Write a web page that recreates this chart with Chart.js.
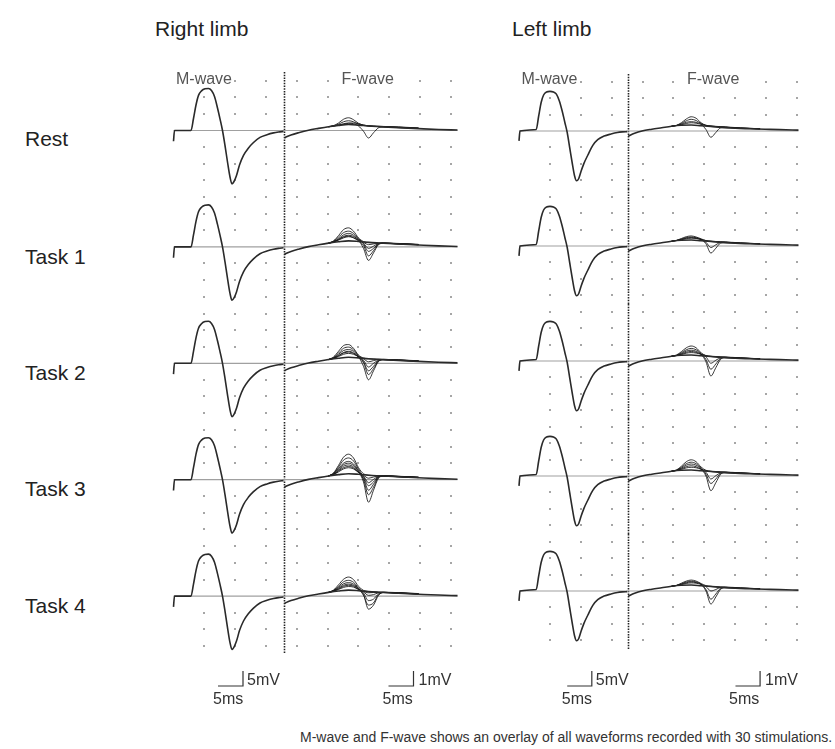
<!DOCTYPE html>
<html>
<head>
<meta charset="utf-8">
<script src="https://cdn.jsdelivr.net/npm/chart.js@4/dist/chart.umd.min.js"></script>
<style>
  html, body { margin: 0; padding: 0; background: #fff; }
  body { width: 835px; height: 749px; position: relative; overflow: hidden;
         font-family: "Liberation Sans", Arial, sans-serif; color: #222; }
  canvas { position: absolute; }
  .txt { position: absolute; white-space: nowrap; line-height: 1; transform: translateY(-50%); }
  .title { font-size: 21px; color: #222; }
  .row { font-size: 21px; color: #222; }
  .wave { font-size: 16px; color: #555; background: #fff; z-index: 2; }
  .bar { font-size: 16px; color: #333; }
  .caption { font-size: 14px; color: #333; }
</style>
</head>
<body>
<script>
const limbs = ['Right limb', 'Left limb']
const conditions = ['Rest', 'Task 1', 'Task 2', 'Task 3', 'Task 4']

// M-wave sweep (5 mV gain): time in ms after stimulus, amplitude in mV
const mTime  = [0, 0.2, 3.5, 4.0, 4.5, 5.0, 5.6, 6.3, 7.0, 7.6, 8.2, 8.8, 9.3, 9.8, 10.3, 10.8, 11.3, 11.7, 12.1, 12.6, 13.2, 14.0, 15.0, 16.0, 17.3, 18.7, 20.0, 21.0, 22.0]
const mRight = [-3.6, 0, 0, 4.0, 8.5, 11.7, 13.2, 13.9, 14.0, 13.3, 11.3, 7.5, 3.9, 0, -5.0, -10.5, -15.5, -17.8, -17.0, -15.0, -11.5, -8.3, -5.8, -4.0, -2.3, -1.4, -0.8, -0.5, -0.3]
const mLeft  = [-3.3, 0, 0.5, 5.0, 9.5, 12.0, 13.0, 13.2, 13.0, 12.3, 10.0, 6.5, 3.0, -0.5, -5.5, -10.5, -15.0, -16.6, -16.0, -13.5, -10.8, -8.0, -4.8, -2.9, -1.7, -1.0, -0.5, -0.3, -0.2]

// F-wave part of the sweep (1 mV gain)
const fTime  = [22.2, 22.6, 23.5, 25, 27, 29, 31, 33, 35, 37, 39, 41, 44, 47, 50, 53, 56.8]
const fRight = [-0.5, -0.42, -0.3, -0.15, 0.02, 0.14, 0.25, 0.34, 0.4, 0.36, 0.3, 0.26, 0.21, 0.16, 0.11, 0.07, 0.03]
const fLeft  = [-0.35, -0.28, -0.15, 0.0, 0.12, 0.22, 0.32, 0.38, 0.4, 0.35, 0.3, 0.24, 0.18, 0.15, 0.12, 0.09, 0.06]

// overlaid F responses, a handful of the 30 sweeps per condition (mV)
const fwTime = [31, 32, 33, 34, 35, 36, 37, 38, 39, 40, 41, 42, 45, 49]
const fwRight = [
  [ // Rest
    [0.25, 0.32, 0.50, 0.75, 0.85, 0.72, 0.48, 0.36, 0.31, 0.29, 0.27, 0.26, 0.22, 0.16],
    [0.25, 0.30, 0.42, 0.58, 0.65, 0.58, 0.42, 0.33, 0.30, 0.28, 0.26, 0.25, 0.20, 0.15],
    [0.25, 0.30, 0.36, 0.45, 0.50, 0.45, 0.30, -0.05, -0.50, -0.15, 0.18, 0.24, 0.19, 0.14],
    [0.25, 0.30, 0.35, 0.42, 0.48, 0.50, 0.45, 0.36, 0.31, 0.29, 0.28, 0.27, 0.24, 0.17]
  ],
  [ // Task 1
    [0.25, 0.40, 0.75, 1.15, 1.27, 1.05, 0.60, 0.36, 0.30, 0.28, 0.26, 0.25, 0.21, 0.15],
    [0.25, 0.38, 0.65, 0.95, 1.05, 0.90, 0.55, 0.20, -0.30, -0.10, 0.20, 0.25, 0.22, 0.16],
    [0.25, 0.35, 0.55, 0.80, 0.90, 0.78, 0.45, -0.10, -0.90, -0.40, 0.15, 0.24, 0.20, 0.15],
    [0.25, 0.33, 0.50, 0.70, 0.78, 0.70, 0.50, 0.25, -0.10, 0.05, 0.22, 0.26, 0.23, 0.17],
    [0.25, 0.32, 0.45, 0.60, 0.68, 0.62, 0.45, 0.30, 0.15, 0.20, 0.24, 0.25, 0.19, 0.14],
    [0.25, 0.33, 0.48, 0.65, 0.72, 0.60, 0.40, 0.10, -0.60, -0.25, 0.18, 0.25, 0.21, 0.15]
  ],
  [ // Task 2
    [0.25, 0.42, 0.80, 1.18, 1.25, 1.00, 0.55, 0.35, 0.30, 0.28, 0.26, 0.25, 0.22, 0.16],
    [0.25, 0.38, 0.68, 1.00, 1.08, 0.90, 0.50, 0.10, -0.50, -0.20, 0.18, 0.25, 0.21, 0.15],
    [0.25, 0.36, 0.60, 0.85, 0.92, 0.80, 0.45, -0.20, -1.10, -0.50, 0.12, 0.24, 0.20, 0.14],
    [0.25, 0.34, 0.52, 0.72, 0.80, 0.70, 0.45, 0.20, -0.25, 0.00, 0.20, 0.26, 0.23, 0.17],
    [0.25, 0.32, 0.45, 0.60, 0.66, 0.60, 0.45, 0.30, 0.10, 0.18, 0.24, 0.25, 0.19, 0.14],
    [0.25, 0.33, 0.50, 0.68, 0.75, 0.65, 0.40, 0.05, -0.75, -0.35, 0.15, 0.25, 0.21, 0.15]
  ],
  [ // Task 3
    [0.25, 0.45, 0.95, 1.50, 1.70, 1.45, 0.80, 0.40, 0.30, 0.28, 0.26, 0.25, 0.22, 0.16],
    [0.25, 0.42, 0.85, 1.30, 1.45, 1.25, 0.70, 0.20, -0.40, -0.15, 0.20, 0.25, 0.21, 0.15],
    [0.25, 0.40, 0.75, 1.10, 1.22, 1.05, 0.60, 0.00, -1.00, -0.50, 0.15, 0.24, 0.20, 0.14],
    [0.25, 0.38, 0.70, 1.00, 1.10, 0.95, 0.55, -0.15, -1.50, -0.70, 0.10, 0.24, 0.19, 0.14],
    [0.25, 0.36, 0.62, 0.90, 0.98, 0.85, 0.50, 0.10, -0.70, -0.30, 0.18, 0.26, 0.23, 0.17],
    [0.25, 0.35, 0.58, 0.80, 0.88, 0.78, 0.50, 0.25, -0.20, 0.02, 0.22, 0.26, 0.22, 0.16],
    [0.25, 0.34, 0.52, 0.72, 0.80, 0.72, 0.48, 0.30, 0.10, 0.18, 0.24, 0.25, 0.20, 0.15]
  ],
  [ // Task 4
    [0.25, 0.40, 0.75, 1.12, 1.27, 1.10, 0.65, 0.38, 0.30, 0.28, 0.26, 0.25, 0.22, 0.16],
    [0.25, 0.38, 0.65, 0.95, 1.05, 0.92, 0.55, 0.20, -0.30, -0.20, 0.15, 0.25, 0.21, 0.15],
    [0.25, 0.36, 0.58, 0.82, 0.90, 0.80, 0.50, 0.05, -0.60, -0.45, 0.10, 0.24, 0.20, 0.14],
    [0.25, 0.35, 0.52, 0.72, 0.80, 0.72, 0.48, 0.10, -0.87, -0.60, 0.05, 0.24, 0.19, 0.14],
    [0.25, 0.33, 0.48, 0.65, 0.72, 0.66, 0.45, 0.28, 0.05, 0.10, 0.22, 0.26, 0.23, 0.17],
    [0.25, 0.32, 0.44, 0.58, 0.64, 0.60, 0.44, 0.32, 0.22, 0.24, 0.25, 0.25, 0.20, 0.15]
  ]
]
const fwLeft = [
  [ // Rest
    [0.32, 0.38, 0.55, 0.80, 0.95, 0.85, 0.55, 0.38, 0.33, 0.30, 0.27, 0.25, 0.20, 0.15],
    [0.32, 0.37, 0.50, 0.68, 0.78, 0.70, 0.50, 0.36, 0.32, 0.30, 0.27, 0.25, 0.19, 0.14],
    [0.32, 0.36, 0.45, 0.58, 0.62, 0.58, 0.45, 0.10, -0.42, -0.10, 0.22, 0.25, 0.18, 0.13],
    [0.32, 0.36, 0.42, 0.50, 0.55, 0.52, 0.45, 0.38, 0.33, 0.31, 0.29, 0.27, 0.21, 0.15]
  ],
  [ // Task 1
    [0.32, 0.38, 0.50, 0.62, 0.67, 0.60, 0.48, 0.36, 0.32, 0.30, 0.27, 0.25, 0.20, 0.15],
    [0.32, 0.37, 0.46, 0.56, 0.60, 0.55, 0.44, 0.15, -0.47, -0.15, 0.20, 0.24, 0.18, 0.13],
    [0.32, 0.36, 0.44, 0.52, 0.56, 0.52, 0.42, 0.25, -0.10, 0.08, 0.24, 0.26, 0.21, 0.15],
    [0.32, 0.36, 0.42, 0.48, 0.52, 0.50, 0.44, 0.36, 0.32, 0.30, 0.28, 0.26, 0.19, 0.14]
  ],
  [ // Task 2
    [0.32, 0.40, 0.62, 0.88, 1.00, 0.88, 0.55, 0.36, 0.32, 0.30, 0.27, 0.25, 0.20, 0.15],
    [0.32, 0.38, 0.55, 0.75, 0.84, 0.75, 0.50, 0.10, -0.55, -0.20, 0.18, 0.24, 0.18, 0.13],
    [0.32, 0.37, 0.50, 0.66, 0.72, 0.65, 0.45, -0.05, -1.00, -0.45, 0.12, 0.23, 0.19, 0.14],
    [0.32, 0.36, 0.46, 0.58, 0.64, 0.58, 0.45, 0.28, -0.15, 0.05, 0.22, 0.26, 0.21, 0.15],
    [0.32, 0.36, 0.43, 0.52, 0.56, 0.53, 0.45, 0.36, 0.30, 0.29, 0.27, 0.25, 0.20, 0.14]
  ],
  [ // Task 3
    [0.32, 0.40, 0.65, 0.95, 1.08, 0.95, 0.60, 0.38, 0.32, 0.30, 0.27, 0.25, 0.20, 0.15],
    [0.32, 0.39, 0.58, 0.82, 0.92, 0.82, 0.52, 0.12, -0.50, -0.20, 0.18, 0.24, 0.18, 0.13],
    [0.32, 0.38, 0.52, 0.72, 0.80, 0.72, 0.48, 0.00, -0.98, -0.45, 0.12, 0.23, 0.19, 0.14],
    [0.32, 0.37, 0.48, 0.62, 0.68, 0.62, 0.45, 0.25, -0.20, 0.02, 0.22, 0.26, 0.21, 0.15],
    [0.32, 0.36, 0.44, 0.54, 0.58, 0.55, 0.45, 0.36, 0.30, 0.29, 0.27, 0.25, 0.20, 0.14]
  ],
  [ // Task 4
    [0.32, 0.38, 0.52, 0.66, 0.73, 0.66, 0.50, 0.36, 0.32, 0.30, 0.27, 0.25, 0.20, 0.15],
    [0.32, 0.37, 0.48, 0.60, 0.65, 0.60, 0.46, 0.10, -0.55, -0.20, 0.18, 0.24, 0.18, 0.13],
    [0.32, 0.36, 0.45, 0.55, 0.60, 0.56, 0.44, 0.00, -0.87, -0.40, 0.12, 0.23, 0.19, 0.14],
    [0.32, 0.36, 0.43, 0.50, 0.54, 0.52, 0.44, 0.30, 0.00, 0.10, 0.24, 0.26, 0.21, 0.15]
  ]
]

// calibration bars
const barMs = 5
const barMmV = 5
const barFmV = 1

// page geometry (pixels) and gains
const pxPerMvM = 3
const pxPerMvF = 15
const dashMs = 22.1
const columns = [
  { left: 160, width: 310, start: 173.5, pxPerMs: 5.0, firstBase: 130.5, gap: 116.4, gridMs: 6.16, mBarAt: 13.9, fBarAt: 48, m: mRight, f: fRight, fw: fwRight },
  { left: 505, width: 310, start: 519, pxPerMs: 4.92, firstBase: 131, gap: 115, gridMs: 6.28, mBarAt: 14.8, fBarAt: 49, m: mLeft, f: fLeft, fw: fwLeft }
]

const panelBackdrop = {
  id: 'panelBackdrop',
  beforeDatasetsDraw(chart, args, opts) {
    if (!opts.grid) return
    const { ctx, chartArea, scales } = chart
    const x0 = scales.x.getPixelForValue(0)
    const stepX = scales.x.getPixelForValue(opts.gridMs) - x0
    const y0 = scales.yM.getPixelForValue(0)
    const stepY = chartArea.height / 7
    ctx.save()
    ctx.fillStyle = '#a6a6a6'
    for (let k = 1; k <= 9; k++) {
      for (let j = -3; j <= 3; j++) {
        if (j === 0) continue
        ctx.fillRect(Math.round(x0 + k * stepX) - 1, Math.round(y0 + j * stepY) - 1, 2, 2)
      }
    }
    const xd = Math.round(scales.x.getPixelForValue(opts.dashMs)) + 0.5
    ctx.strokeStyle = '#222'
    ctx.lineWidth = 1.6
    ctx.setLineDash([1.5, 1.2])
    ctx.beginPath()
    ctx.moveTo(xd, chartArea.top)
    ctx.lineTo(xd, chartArea.bottom)
    ctx.stroke()
    ctx.restore()
  }
}

function makeCanvas(x, y, w, h) {
  const c = document.createElement('canvas')
  c.width = w
  c.height = h
  c.style.left = x + 'px'
  c.style.top = y + 'px'
  c.style.width = w + 'px'
  c.style.height = h + 'px'
  document.body.appendChild(c)
  return c
}

function addText(cls, text, x, y) {
  const d = document.createElement('div')
  d.className = 'txt ' + cls
  d.textContent = text
  d.style.left = x + 'px'
  d.style.top = y + 'px'
  document.body.appendChild(d)
}

function pts(xs, ys) {
  return xs.map((x, i) => ({ x: x, y: ys[i] }))
}

function baseOptions(col, top, h, base, backdrop) {
  return {
    responsive: false,
    animation: false,
    devicePixelRatio: 1,
    layout: { padding: 0 },
    plugins: { legend: { display: false }, tooltip: { enabled: false }, panelBackdrop: backdrop },
    elements: { point: { radius: 0 }, line: { cubicInterpolationMode: 'monotone' } },
    scales: {
      x: { type: 'linear', display: false, min: (col.left - col.start) / col.pxPerMs, max: (col.left + col.width - col.start) / col.pxPerMs },
      yM: { type: 'linear', display: false, min: -(top + h - base) / pxPerMvM, max: (base - top) / pxPerMvM },
      yF: { type: 'linear', display: false, min: -(top + h - base) / pxPerMvF, max: (base - top) / pxPerMvF }
    }
  }
}

columns.forEach((col, c) => {
  conditions.forEach((cond, r) => {
    const base = col.firstBase + r * col.gap
    const top = Math.round(base - col.gap / 2)
    const h = Math.round(col.gap)
    const datasets = [
      { data: [{ x: mTime[0], y: 0 }, { x: fTime[fTime.length - 1], y: 0 }], yAxisID: 'yM', borderColor: '#a0a0a0', borderWidth: 1.2, order: 20 },
      { data: pts(mTime, col.m), yAxisID: 'yM', borderColor: '#2a2a2a', borderWidth: 1.6, order: 1 },
      { data: pts(fTime, col.f), yAxisID: 'yF', borderColor: '#2a2a2a', borderWidth: 1.6, order: 2 }
    ]
    col.fw[r].forEach(sweep => {
      datasets.push({ data: pts(fwTime, sweep), yAxisID: 'yF', borderColor: 'rgba(20,20,20,0.85)', borderWidth: 1, order: 3 })
    })
    new Chart(makeCanvas(col.left, top, col.width, h), {
      type: 'line',
      data: { datasets: datasets },
      options: baseOptions(col, top, h, base, { grid: true, gridMs: col.gridMs, dashMs: dashMs }),
      plugins: [panelBackdrop]
    })
  })

  // calibration bars under the column
  const barTop = 660, barH = 40, barBase = 686
  new Chart(makeCanvas(col.left, barTop, col.width, barH), {
    type: 'line',
    data: {
      datasets: [
        { data: [{ x: col.mBarAt - barMs, y: 0 }, { x: col.mBarAt, y: 0 }, { x: col.mBarAt, y: barMmV }], yAxisID: 'yM', borderColor: '#333', borderWidth: 1.2, tension: 0, cubicInterpolationMode: 'default' },
        { data: [{ x: col.fBarAt - barMs, y: 0 }, { x: col.fBarAt, y: 0 }, { x: col.fBarAt, y: barFmV }], yAxisID: 'yF', borderColor: '#333', borderWidth: 1.2, tension: 0, cubicInterpolationMode: 'default' }
      ]
    },
    options: baseOptions(col, barTop, barH, barBase, { grid: false }),
    plugins: [panelBackdrop]
  })

  const mx = col.start + col.mBarAt * col.pxPerMs
  const fx = col.start + col.fBarAt * col.pxPerMs
  addText('bar', barMmV + 'mV', mx + 4, 680)
  addText('bar', barMs + 'ms', mx - 30, 699)
  addText('bar', barFmV + 'mV', fx + 5, 680)
  addText('bar', barMs + 'ms', fx - 31, 699)

  addText('wave', 'M-wave', col.start + 2.5, 79)
  addText('wave', 'F-wave', col.start + 168, 79)
})

addText('title', limbs[0], 155, 28)
addText('title', limbs[1], 512, 28)
const rowY = [138, 256, 372, 488, 605]
conditions.forEach((cond, r) => addText('row', cond, 25, rowY[r]))
addText('caption', 'M-wave and F-wave shows an overlay of all waveforms recorded with 30 stimulations.', 300, 737)
</script>
</body>
</html>
